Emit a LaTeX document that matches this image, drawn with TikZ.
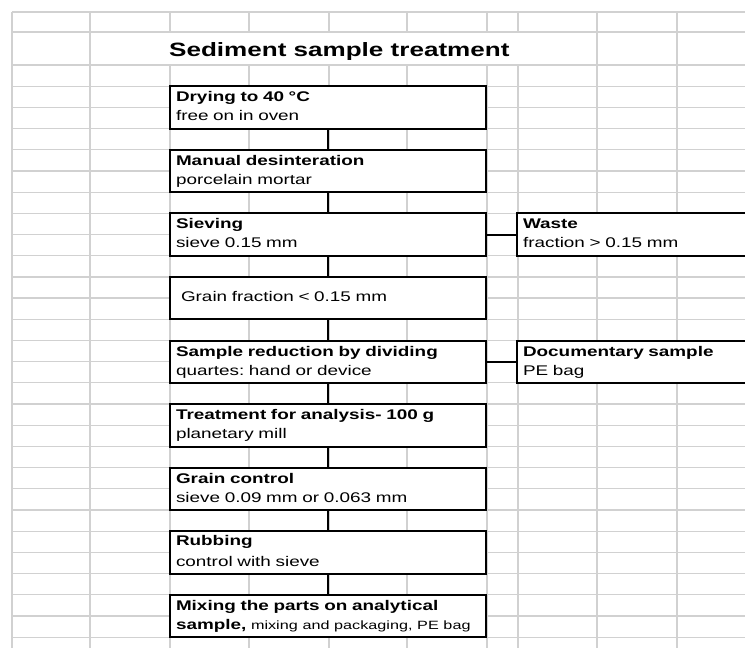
\documentclass[tikz,border=0pt]{standalone}
\usepackage{fontspec}
\setmainfont{Liberation Sans}[FakeStretch=1.35]
\usetikzlibrary{positioning}
\frenchspacing

\begin{document}
\begin{tikzpicture}[x=1pt,y=-1pt,
  cell/.style={draw=black!18, line width=1.2pt},
  stepbox/.style={draw, line width=2pt, fill=white, anchor=north west, outer sep=0pt,
    minimum width=316pt, minimum height=42.4pt, text width=304pt, inner xsep=6pt, inner ysep=0pt,
    align=left, font=\fontsize{14}{19}\selectfont},
  sidebox/.style={stepbox, minimum width=330pt, text width=318pt},
  link/.style={line width=2pt},
  title/.style={anchor=base west, inner sep=0pt, font=\fontsize{19.3}{23}\selectfont\bfseries}]
\useasboundingbox (0,0) rectangle (745,648);
\clip (0,0) rectangle (745,648);
% sheet grid
\foreach \x in {12,90,597,677}
  \draw[cell] (\x,12) -- (\x,648);
\foreach \x in {170,249,329,407,487,518}
  \draw[cell] (\x,12) -- (\x,32) (\x,65) -- (\x,648);
\foreach \y in {12,32}
  \draw[cell] (12,\y) -- (745,\y);
\foreach \i in {0,...,27}
  \draw[cell] (12,65+21.19*\i) -- (745,65+21.19*\i);

\node[title] (title) at (169,56.5) {Sediment sample treatment};

\node[stepbox] (dry) at (170,86.2) {\strut\textbf{Drying to 40 °C}\\free on in oven\strut};
\node[stepbox, below=21.19pt of dry] (desint) {\strut\textbf{Manual desinteration}\\porcelain mortar\strut};
\node[stepbox, below=21.19pt of desint] (sieving) {\strut\textbf{Sieving}\\sieve 0.15 mm\strut};
\node[stepbox, below=21.19pt of sieving] (fraction) {\strut\hspace*{5pt}Grain fraction < 0.15 mm};
\node[stepbox, below=21.19pt of fraction] (dividing) {\strut\textbf{Sample reduction by dividing}\\quartes: hand or device\strut};
\node[stepbox, below=21.19pt of dividing] (mill) {\strut\textbf{Treatment for analysis- 100 g}\\planetary mill\strut};
\node[stepbox, below=21.19pt of mill] (control) {\strut\textbf{Grain control}\\sieve 0.09 mm or 0.063 mm\strut};
\node[stepbox, below=21.19pt of control] (rubbing) {\strut\textbf{Rubbing}\\[2pt]control with sieve\strut};
\node[stepbox, below=21.19pt of rubbing] (mixing) {\strut\textbf{Mixing the parts on analytical}\\\textbf{sample,} {\fontsize{12}{14}\selectfont mixing and packaging, PE bag}\strut};

\node[sidebox, right=31pt of sieving] (waste) {\strut\textbf{Waste}\\fraction > 0.15 mm\strut};
\node[sidebox, right=31pt of dividing] (docsample) {\strut\textbf{Documentary sample}\\PE bag\strut};

\draw[link] (dry.south) -- (desint.north);
\draw[link] (desint.south) -- (sieving.north);
\draw[link] (sieving.south) -- (fraction.north);
\draw[link] (fraction.south) -- (dividing.north);
\draw[link] (dividing.south) -- (mill.north);
\draw[link] (mill.south) -- (control.north);
\draw[link] (control.south) -- (rubbing.north);
\draw[link] (rubbing.south) -- (mixing.north);
\draw[link] (sieving.east) -- (waste.west);
\draw[link] (dividing.east) -- (docsample.west);
\end{tikzpicture}
\end{document}
